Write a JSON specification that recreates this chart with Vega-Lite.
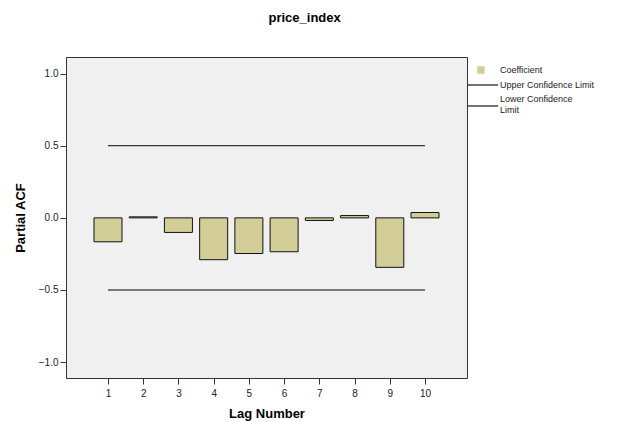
{
  "$schema": "https://vega.github.io/schema/vega-lite/v6.json",
  "width": 401,
  "height": 321,
  "padding": {"left": 14, "top": 12, "right": 5, "bottom": 5},
  "title": {"text": "price_index", "font": "Liberation Sans", "fontSize": 13, "fontWeight": "bold", "frame": "bounds", "anchor": "middle", "offset": 32, "color": "#000"},
  "config": {
    "view": {"stroke": "#333", "strokeWidth": 1, "fill": "#f0f0f0"},
    "font": "Liberation Sans",
    "axis": {"grid": false, "domain": false, "tickColor": "#333", "tickSize": 6, "labelFontSize": 10, "labelColor": "#222", "titleFontSize": 13, "titleFontWeight": "bold", "titleColor": "#000", "labelPadding": 2},
    "legend": {"title": null, "orient": "none", "legendX": 401, "legendY": 5, "padding": 0, "labelFontSize": 9, "labelColor": "#222", "symbolSize": 196, "rowPadding": 1, "labelOffset": 17}
  },
  "datasets": {
    "pacf": [
      {"lag": 1, "pacf": -0.166, "series": "Coefficient"},
      {"lag": 2, "pacf": 0.007, "series": "Coefficient"},
      {"lag": 3, "pacf": -0.101, "series": "Coefficient"},
      {"lag": 4, "pacf": -0.29, "series": "Coefficient"},
      {"lag": 5, "pacf": -0.247, "series": "Coefficient"},
      {"lag": 6, "pacf": -0.235, "series": "Coefficient"},
      {"lag": 7, "pacf": -0.018, "series": "Coefficient"},
      {"lag": 8, "pacf": 0.016, "series": "Coefficient"},
      {"lag": 9, "pacf": -0.343, "series": "Coefficient"},
      {"lag": 10, "pacf": 0.037, "series": "Coefficient"}
    ],
    "limits": [
      {"from": 1, "to": 10, "value": 0.5, "series": "Upper Confidence Limit"},
      {"from": 1, "to": 10, "value": -0.5, "series": "Lower Confidence Limit"}
    ]
  },
  "layer": [
    {
      "mark": {"type": "rule", "color": "#444", "strokeWidth": 1},
      "encoding": {"y": {"datum": 0, "type": "quantitative", "scale": {"domain": [-1.11, 1.115]}}}
    },
    {
      "data": {"name": "pacf"},
      "mark": {"type": "bar", "size": 28, "stroke": "#111", "strokeWidth": 1},
      "encoding": {
        "x": {"field": "lag", "type": "quantitative", "scale": {"domain": [-0.05, 11.05], "nice": false, "zero": false},
              "axis": {"values": [1,2,3,4,5,6,7,8,9,10], "title": "Lag Number", "format": "d", "titlePadding": 9, "labelPadding": 4}},
        "y": {"field": "pacf", "type": "quantitative", "scale": {"domain": [-1.11, 1.115], "nice": false},
              "axis": {"values": [-1, -0.5, 0, 0.5, 1], "format": ".1f", "title": "Partial ACF", "titlePadding": 11}},
        "color": {"field": "series", "type": "nominal",
          "scale": {"domain": ["Coefficient", "Upper Confidence Limit", "Lower Confidence Limit"], "range": ["#d3ce97", "#000", "#000"]},
          "legend": {
            "labelExpr": "datum.label == 'Lower Confidence Limit' ? ['Lower Confidence', 'Limit'] : datum.label",
            "encode": {"symbols": {"update": {
              "shape": {"signal": "datum.value == 'Coefficient' ? 'M0.4,-0.45H1.3V0.45H0.4Z' : (datum.value == 'Lower Confidence Limit' ? 'M-1,1H3.3' : 'M-1,0H3.3')"},
              "size": {"value": 196},
              "fill": {"signal": "datum.value == 'Coefficient' ? '#d3ce97' : 'transparent'"},
              "stroke": {"value": "#000"},
              "strokeWidth": {"value": 1.1},
              "opacity": {"value": 1}
            }}}
          }}
      }
    },
    {
      "data": {"name": "limits"},
      "mark": {"type": "rule", "strokeWidth": 1},
      "encoding": {
        "x": {"field": "from", "type": "quantitative"},
        "x2": {"field": "to"},
        "y": {"field": "value", "type": "quantitative"},
        "color": {"field": "series", "type": "nominal",
          "legend": {
            "labelExpr": "datum.label == 'Lower Confidence Limit' ? ['Lower Confidence', 'Limit'] : datum.label",
            "encode": {"symbols": {"update": {
              "shape": {"signal": "datum.value == 'Coefficient' ? 'M0.4,-0.45H1.3V0.45H0.4Z' : (datum.value == 'Lower Confidence Limit' ? 'M-1,1H3.3' : 'M-1,0H3.3')"},
              "size": {"value": 196},
              "fill": {"signal": "datum.value == 'Coefficient' ? '#d3ce97' : 'transparent'"},
              "stroke": {"value": "#000"},
              "strokeWidth": {"value": 1.1},
              "opacity": {"value": 1}
            }}}
          }}
      }
    }
  ]
}
